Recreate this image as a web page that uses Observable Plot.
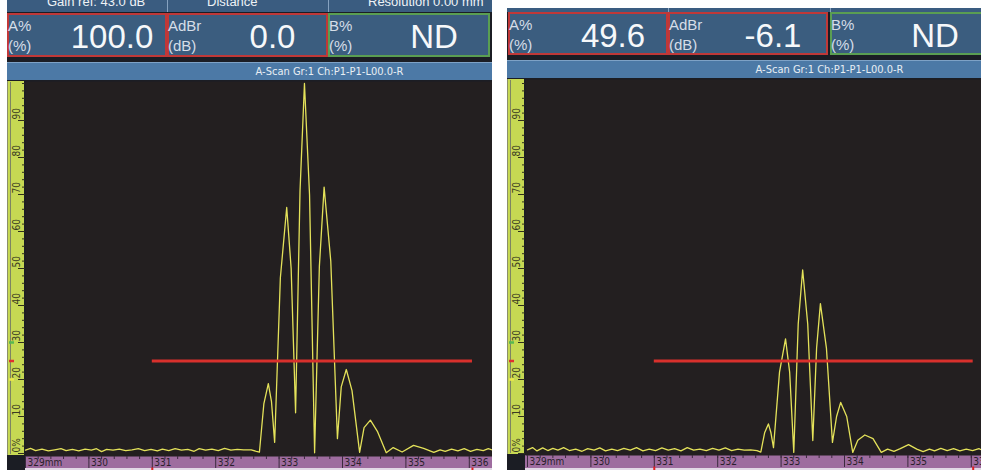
<!DOCTYPE html>
<html><head><meta charset="utf-8">
<script src="https://cdn.jsdelivr.net/npm/d3@7"></script>
<script src="https://cdn.jsdelivr.net/npm/@observablehq/plot@0.6"></script>
<style>
html,body{margin:0;padding:0;background:#fff}
body{width:981px;height:471px;overflow:hidden;position:relative;font-family:"Liberation Sans",Arial,sans-serif}
</style></head><body>
<script>
// ---------- data ----------
const scanTitle = "A-Scan Gr:1 Ch:P1-P1-L00.0-R";
const boxLabels = [["A%", "(%)"], ["AdBr", "(dB)"], ["B%", "(%)"]];
const readoutsLeft = ["100.0", "0.0", "ND"];
const readoutsRight = ["49.6", "-6.1", "ND"];
const topStripTexts = ["Gain ref: 43.0 dB", "Distance", "Resolution 0.00 mm"];

const yTickValues = [0, 10, 20, 30, 40, 50, 60, 70, 80, 90];
const yTickLabels = ["0%", "10", "20", "30", "40", "50", "60", "70", "80", "90"];
const xTickValues = [329, 330, 331, 332, 333, 334, 335, 336];
const xTickLabels = ["329mm", "330", "331", "332", "333", "334", "335", "336"];

const gateLevels = [25, 25];
const gateStarts = [331.0, 331.0];
const gateEnds = [336.05, 336.03];
const rulerLevels = [30, 25, 20];

// echo amplitude (%) vs depth (mm), left screen (reference, 100%)
const echoLeft = [
  [329.00,0.9],[329.08,1.4],[329.16,0.8],[329.26,1.2],[329.36,0.7],[329.46,1.0],[329.56,1.3],[329.64,0.8],
  [329.74,1.1],[329.84,0.7],[329.94,1.2],[330.04,0.9],[330.12,1.3],[330.20,0.5],[330.28,1.1],[330.38,0.9],
  [330.48,1.2],[330.58,0.8],[330.68,1.0],[330.78,1.3],[330.88,0.8],[330.98,1.1],[331.08,0.7],[331.16,1.2],
  [331.26,0.8],[331.36,1.3],[331.46,0.9],[331.56,1.1],[331.66,0.6],[331.74,1.3],[331.84,0.9],[331.94,1.2],
  [332.04,0.8],[332.14,1.4],[332.24,0.9],[332.34,1.1],[332.44,1.0],[332.56,1.0],[332.64,0.6],[332.69,0.4],
  [332.76,13.5],[332.83,18.9],[332.88,14.0],[332.93,3.0],
  [333.02,47.5],[333.12,66.5],[333.19,50.0],[333.26,11.0],
  [333.33,71.0],[333.40,100],[333.48,70.0],[333.56,0.2],
  [333.635,50.5],[333.71,72.0],[333.815,52.0],[333.92,4.0],
  [333.98,18.0],[334.06,22.7],[334.15,17.0],[334.27,0.3],
  [334.34,7.0],[334.44,9.0],[334.55,6.0],[334.69,0.2],
  [334.80,1.6],[334.94,0.4],[335.12,2.2],[335.28,1.4],[335.44,0.3],[335.54,1.0],[335.62,0.6],[335.72,1.2],
  [335.82,0.7],[335.92,1.3],[336.02,0.6],[336.12,1.1],[336.22,0.8],[336.30,1.3],[336.37,0.9]
];
// right screen (-6.1 dB, 49.6%)
const echoRight = [
  [329.00,1.0],[329.08,1.6],[329.15,0.7],[329.24,1.5],[329.32,0.8],[329.40,1.4],[329.48,0.9],[329.57,1.6],
  [329.66,0.8],[329.76,1.2],[329.86,0.6],[329.95,1.3],[330.05,0.9],[330.14,1.5],[330.23,0.7],[330.33,1.2],
  [330.42,0.8],[330.52,1.4],[330.62,0.9],[330.72,1.6],[330.82,0.7],[330.92,1.2],[331.02,0.8],[331.12,1.5],
  [331.22,0.9],[331.32,1.3],[331.42,0.7],[331.52,1.6],[331.62,0.9],[331.72,1.2],[331.82,0.8],[331.92,1.4],
  [332.02,0.9],[332.12,1.5],[332.22,0.8],[332.32,1.2],[332.42,0.9],[332.52,1.0],[332.62,0.8],[332.68,0.4],
  [332.74,5.6],[332.80,8.0],[332.84,5.6],[332.88,1.6],
  [332.975,22.0],[333.07,31.0],[333.135,22.0],[333.20,0.3],
  [333.27,35.0],[333.34,49.6],[333.42,35.0],[333.50,3.5],
  [333.56,28.5],[333.62,40.5],[333.715,28.5],[333.81,3.0],
  [333.875,10.0],[333.94,13.8],[334.035,10.0],[334.13,0.3],
  [334.21,3.6],[334.32,5.0],[334.45,4.0],[334.58,0.3],[334.68,1.2],[334.78,0.6],
  [334.88,1.3],[335.01,2.4],[335.14,1.2],[335.24,0.5],[335.34,1.2],[335.42,0.7],[335.52,1.4],[335.62,0.8],
  [335.72,1.3],[335.82,0.7],[335.92,1.2],[336.02,0.8],[336.12,1.3],[336.16,1.0]
];

// ---------- layout ----------
const NARROW = '"Liberation Sans Narrow","DejaVu Sans Condensed","Liberation Sans",sans-serif';
const PX_PER_MM = 63.4;
const geo = [
  {x:7,   w:485, strip:[0,12], boxTop:13, boxH:44, boxX:[0,160,321], boxW:[160,161,162], titleTop:62, frameTop:81, frameBottom:456, x329:25,  y0:453, y100:83, stripText:true},
  {x:507, w:474, strip:[8,12], boxTop:12, boxH:43, boxX:[1,161,323], boxW:[160,160,160], titleTop:60, frameTop:79, frameBottom:455, x329:527, y0:453, y100:83, stripText:false}
];
const boxBorderColors = ["#c03838", "#c03838", "#5a9e52"];

function el(parent, css, text) {
  const d = document.createElement("div");
  d.style.position = "absolute";
  Object.assign(d.style, css);
  if (text != null) d.textContent = text;
  parent.appendChild(d);
  return d;
}

function dashSymbol(w, h) {
  return {draw(ctx) { ctx.rect(-w / 2, -h / 2, w, h); }};
}

function buildPanel(g, gi, echo, readouts) {
  const panel = el(document.body, {left: g.x + "px", top: "0px", width: g.w + "px", height: "471px", overflow: "hidden"});
  el(panel, {left: "0px", top: g.strip[0] + "px", width: "100%", height: (470 - g.strip[0]) + "px", background: "#1b1d24"});
  const strip = el(panel, {left: "0px", top: g.strip[0] + "px", width: "100%", height: (g.strip[1] - g.strip[0]) + "px", background: "#3a5c80", overflow: "hidden"});
  g.boxX.forEach((bx, i) => {
    if (i > 0) el(strip, {left: bx + "px", top: "0px", width: "1px", height: "100%", background: "#86a2c0"});
    if (g.stripText) el(strip, {left: (bx + 40) + "px", top: "-6px", color: "#eef2f6", fontSize: "13px", lineHeight: "15px", whiteSpace: "nowrap"}, topStripTexts[i]);
  });
  g.boxX.forEach((bx, i) => {
    const b = el(panel, {left: bx + "px", top: g.boxTop + "px", width: g.boxW[i] + "px", height: g.boxH + "px",
      boxSizing: "border-box", border: "2px solid " + boxBorderColors[i], background: "#3b5d7f"});
    el(b, {left: "-1px", top: "3px", fontSize: "15px", lineHeight: "15px", color: "#d6dee8", whiteSpace: "nowrap"}, boxLabels[i][0]);
    el(b, {left: "-1px", top: "23px", fontSize: "15px", lineHeight: "15px", color: "#d6dee8", whiteSpace: "nowrap"}, boxLabels[i][1]);
    el(b, {left: "50px", right: "0px", top: "5px", fontSize: "33px", lineHeight: "33px", color: "#f6f8fa", textAlign: "center", whiteSpace: "nowrap"}, readouts[i]);
  });
  const tb = el(panel, {left: "0px", top: g.titleTop + "px", width: "485px", height: "18px", boxSizing: "border-box",
    background: "#4c79a6", borderTop: "1px solid #7ea2c6"});
  el(tb, {left: "160px", right: "0px", top: "0px", lineHeight: "17px", textAlign: "center", fontSize: "11px",
    fontFamily: NARROW, color: "#e8eef4", whiteSpace: "nowrap"}, scanTitle);
  const rl = g.x329 - g.x - (gi === 0 ? 18 : 20);
  el(panel, {left: rl + "px", top: g.frameTop + "px", width: "17px", height: (g.frameBottom - 1 - g.frameTop) + "px",
    background: "#c6d853", boxSizing: "border-box", borderLeft: "1px solid #8a8f6a"});
  el(panel, {left: (rl + 3) + "px", top: (g.frameTop + 1) + "px", width: "1px", height: (g.frameBottom - 3 - g.frameTop) + "px", background: "#7d8463"});
  el(panel, {left: (rl + 18) + "px", top: g.frameBottom + "px", width: "100%", height: (468 - g.frameBottom) + "px", background: "#9e6c9f"});
  el(panel, {left: (rl + 18) + "px", top: "468px", width: "100%", height: "2px", background: "#e2d8e6"});

  // ---------- Plot ----------
  const svgTop = g.frameTop - 1;
  const H = 470 - svgTop;
  const W = g.w;
  const ml = rl + 18;
  const xr0 = g.x329 - g.x;
  const xMax = 329 + (W - xr0) / PX_PER_MM;
  const minorY = d3.range(0, 101, 2);
  const minorX = d3.range(0, 36).map(i => 329 + i * 0.2);
  const tickColor = "#2f2f1c";
  const chart = Plot.plot({
    width: W, height: H,
    marginLeft: ml, marginRight: 0, marginTop: 1, marginBottom: 470 - g.frameBottom,
    style: {background: "transparent", overflow: "visible"},
    x: {domain: [329, xMax], range: [xr0, W], axis: null},
    y: {domain: [0, 100], range: [g.y0 - svgTop, g.y100 - svgTop], axis: null},
    marks: [
      Plot.frame({fill: "#231f20", stroke: null}),
      Plot.axisY(minorY, {anchor: "left", tickSize: 3, tickFormat: () => "", stroke: tickColor, label: null}),
      Plot.axisY(yTickValues, {anchor: "left", tickSize: 7, tickFormat: () => "", stroke: tickColor, label: null}),
      Plot.text(yTickValues, {y: d => d, text: (d, i) => yTickLabels[i], frameAnchor: "left", dx: -9, dy: -1,
        rotate: -90, textAnchor: "start", lineAnchor: "middle", fontSize: 10, fill: "#3a3a22", fontFamily: NARROW}),
      Plot.dot([rulerLevels[0]], {y: d => d, frameAnchor: "left", dx: -14, symbol: dashSymbol(5, 2.5), fill: "#58b850"}),
      Plot.dot([rulerLevels[1]], {y: d => d, frameAnchor: "left", dx: -14, symbol: dashSymbol(5, 2.5), fill: "#e03030"}),
      Plot.dot([rulerLevels[2]], {y: d => d, frameAnchor: "left", dx: -14, symbol: dashSymbol(5, 2.5), fill: "#ece84a"}),
      Plot.line(echo, {x: d => d[0], y: d => d[1], stroke: "#e4e25a", strokeWidth: 1.3, strokeLinejoin: "round"}),
      Plot.ruleY([gateLevels[gi]], {y: d => d, x1: () => gateStarts[gi], x2: () => gateEnds[gi], stroke: "#d8302c", strokeWidth: 3}),
      Plot.axisX(minorX, {anchor: "bottom", tickSize: 3, tickFormat: () => "", stroke: "#3b2a3e", label: null}),
      Plot.axisX(xTickValues, {anchor: "bottom", tickSize: 12, tickFormat: () => "", stroke: "#3b2a3e", label: null}),
      Plot.text(xTickValues, {x: d => d, text: (d, i) => xTickLabels[i], frameAnchor: "bottom", dx: 2, dy: 6,
        textAnchor: "start", lineAnchor: "middle", fontSize: 10, fill: "#2a1f2c", fontFamily: NARROW}),
      Plot.dot([gateStarts[gi], gateEnds[gi]], {x: d => d, frameAnchor: "bottom", dy: 13, symbol: dashSymbol(2, 4), fill: "#e02020"})
    ]
  });
  const holder = el(document.body, {left: g.x + "px", top: svgTop + "px", width: W + "px", height: H + "px", overflow: "hidden"});
  holder.appendChild(chart);
}

buildPanel(geo[0], 0, echoLeft, readoutsLeft);
buildPanel(geo[1], 1, echoRight, readoutsRight);
</script></body></html>
